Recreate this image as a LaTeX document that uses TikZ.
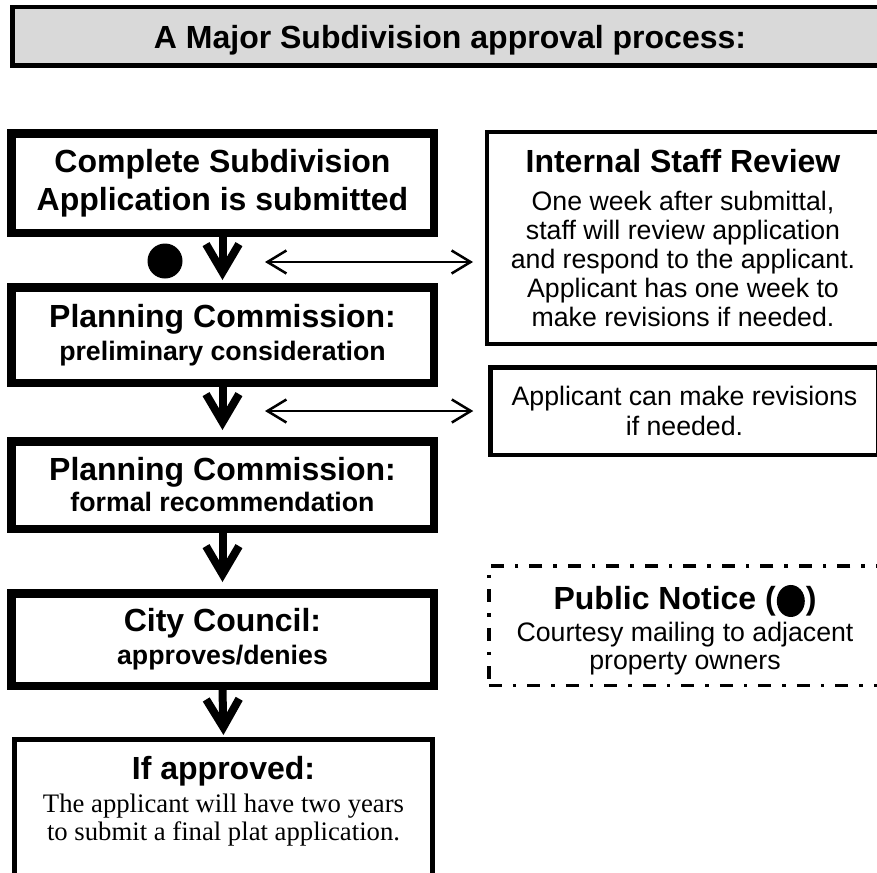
\documentclass[tikz,border=0pt]{standalone}
\usepackage{fontspec}
\setmainfont{Liberation Sans}
\newfontfamily\tnr{Liberation Serif}
\usetikzlibrary{arrows.meta}
\definecolor{titlegray}{HTML}{D9D9D9}
\begin{document}
\begin{tikzpicture}[x=1pt,y=-1pt,
  mainbox/.style={draw, line width=8.5pt, minimum width=422.5pt, inner sep=0pt, align=center,
    font=\fontsize{32}{38}\selectfont\bfseries},
  sidebox/.style={draw, inner sep=0pt, align=center, font=\fontsize{26.7}{29}\selectfont},
  bigarrow/.style={line width=8pt, -{Straight Barb[length=28pt,width=33pt,sharp]}},
  dblarrow/.style={line width=2.5pt, {Straight Barb[length=19pt,width=23pt,sharp]}-{Straight Barb[length=19pt,width=23pt,sharp]}}]
\clip (0,0) rectangle (877,872);
\fill[white] (0,0) rectangle (877,872);

% title
\node[draw, line width=4.5pt, fill=titlegray, minimum width=875.5pt, minimum height=58.5pt,
  inner sep=0pt, text depth=0pt, font=\fontsize{32}{38}\selectfont\bfseries] (title) at (450,36.5)
  {A Major Subdivision approval process:};

% main column
\node[mainbox, minimum height=99.5pt] (b1) at (222.5,183)
  {Complete Subdivision\\Application is submitted};
\node[mainbox, minimum height=95.5pt] (b2) at (222.5,335)
  {Planning Commission:\\[-5pt]{\fontsize{26.7}{32}\selectfont preliminary consideration}};
\node[mainbox, minimum height=87.5pt] (b3) at (222.5,485)
  {Planning Commission:\\[-7pt]{\fontsize{26.7}{32}\selectfont formal recommendation}};
\node[mainbox, minimum height=92.5pt] (b4) at (222.5,639.5)
  {City Council:\\[-5pt]{\fontsize{26.7}{32}\selectfont approves/denies}};
\node[draw, line width=5pt, minimum width=418pt, minimum height=148pt, inner sep=0pt] (b5) at (223.5,813.5) {};
\node[align=center, inner sep=0pt, font=\fontsize{32}{38}\selectfont\bfseries] (b5t) at (223.5,801)
  {If approved:\\[-5pt]{\tnr\mdseries\fontsize{26.7}{30}\selectfont The applicant will have two years}\\[-10pt]
   {\tnr\mdseries\fontsize{26.7}{30}\selectfont to submit a final plat application.}};

% dot
\node[circle, fill=black, minimum size=35pt, inner sep=0pt] (dot) at (165,261) {};

% right column
\node[sidebox, line width=4pt, minimum width=392pt, minimum height=212pt] (r1) at (683,238)
  {{\bfseries\fontsize{32}{38}\selectfont Internal Staff Review}\\[9pt]
   One week after submittal,\\staff will review application\\and respond to the applicant.\\
   Applicant has one week to\\make revisions if needed.};
\node[sidebox, line width=4.5pt, minimum width=388pt, minimum height=87.5pt, font=\fontsize{26.7}{30}\selectfont] (r2) at (684.5,411)
  {Applicant can make revisions\\if needed.};
\node[draw, line width=3.5pt, dash pattern=on 13pt off 11pt on 3.5pt off 11pt,
  minimum width=390.5pt, minimum height=119.5pt, inner sep=0pt] (pn) at (684,625.5) {};
\node[align=center, inner sep=0pt, font=\fontsize{26.7}{28}\selectfont] (pnt) at (685,630)
  {{\bfseries\fontsize{32}{38}\selectfont Public Notice (\hspace{1pt}\raisebox{-7.5pt}{\tikz\fill[black] (0,0) ellipse (14pt and 16pt);}\hspace{1pt})}\\[4pt]
   Courtesy mailing to adjacent\\property owners};

% arrows
\draw[bigarrow, shorten >=3pt] (b1.south) -- (b2.north);
\draw[bigarrow, shorten >=7pt] (b2.south) -- (b3.north);
\draw[bigarrow, shorten >=7pt] (b3.south) -- (b4.north);
\draw[bigarrow, shorten >=2pt] (b4.south) -- (b5.north);

\coordinate (d1) at (265,262);
\coordinate (d2) at (265,411);
\draw[dblarrow, shorten >=12pt] (d1) -- (d1 -| r1.west);
\draw[dblarrow, shorten >=15pt] (d2) -- (d2 -| r2.west);
\end{tikzpicture}
\end{document}
